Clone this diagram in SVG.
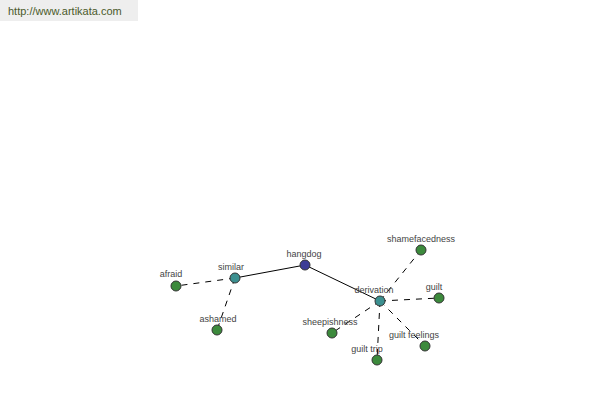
<svg xmlns="http://www.w3.org/2000/svg" width="600" height="400" viewBox="0 0 600 400">
<style>
text{font-family:"Liberation Sans",Arial,sans-serif;font-size:9px;fill:#444;text-anchor:middle}
.n{stroke:#333;stroke-width:1}
.root{fill:#3c3c96}
.mid{fill:#3c9090}
.leaf{fill:#3c8a3c}
.e{stroke:#000;stroke-width:1;fill:none}
.d{stroke-dasharray:6,6}
</style>
<rect x="0" y="0" width="138" height="21" fill="#eeeeee"/>
<text x="8" y="15" style="text-anchor:start;font-size:11px;fill:#4b5a2b">http://www.artikata.com</text>
<g id="connectors">
<line class="e" x1="305" y1="265" x2="235" y2="278"/>
<line class="e" x1="305" y1="265" x2="380" y2="301"/>
<line class="e d" x1="235" y1="278" x2="176" y2="286"/>
<line class="e d" x1="235" y1="278" x2="217" y2="330"/>
<line class="e d" x1="380" y1="301" x2="421" y2="250"/>
<line class="e d" x1="380" y1="301" x2="439" y2="298"/>
<line class="e d" x1="380" y1="301" x2="332" y2="333"/>
<line class="e d" x1="380" y1="301" x2="377" y2="360"/>
<line class="e d" x1="380" y1="301" x2="425" y2="346"/>
</g>
<g id="hangdog"><circle class="n root" cx="305" cy="265" r="5"/><text x="304" y="257">hangdog</text></g>
<g id="similar"><circle class="n mid" cx="235" cy="278" r="5"/><text x="231" y="270">similar</text></g>
<g id="derivation"><circle class="n mid" cx="380" cy="301" r="5"/><text x="374" y="293">derivation</text></g>
<g id="afraid"><circle class="n leaf" cx="176" cy="286" r="5"/><text x="171" y="277">afraid</text></g>
<g id="ashamed"><circle class="n leaf" cx="217" cy="330" r="5"/><text x="218" y="322">ashamed</text></g>
<g id="shamefacedness"><circle class="n leaf" cx="421" cy="250" r="5"/><text x="421" y="242">shamefacedness</text></g>
<g id="guilt"><circle class="n leaf" cx="439" cy="298" r="5"/><text x="434" y="290">guilt</text></g>
<g id="sheepishness"><circle class="n leaf" cx="332" cy="333" r="5"/><text x="330" y="325">sheepishness</text></g>
<g id="guilt-trip"><circle class="n leaf" cx="377" cy="360" r="5"/><text x="367" y="352">guilt trip</text></g>
<g id="guilt-feelings"><circle class="n leaf" cx="425" cy="346" r="5"/><text x="414" y="338">guilt feelings</text></g>
</svg>
